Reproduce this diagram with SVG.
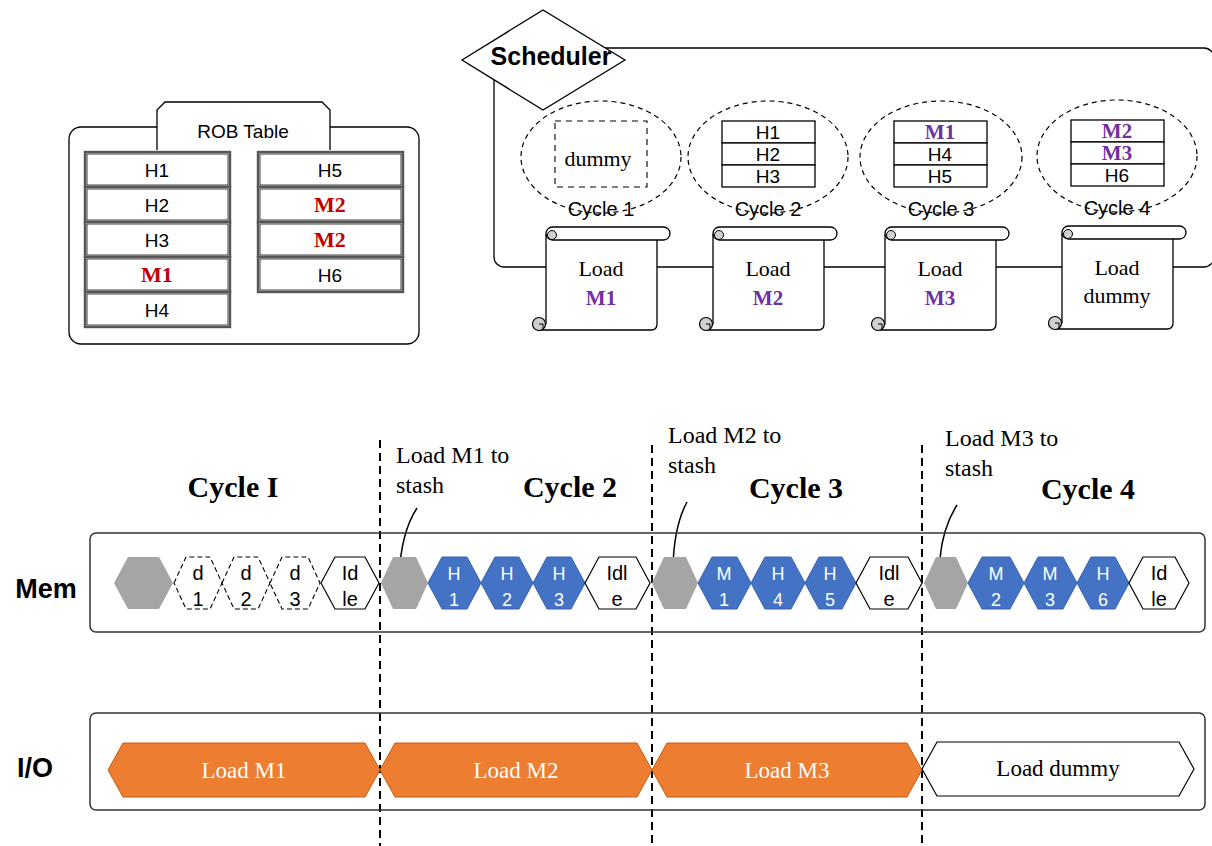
<svg xmlns="http://www.w3.org/2000/svg" xmlns:xlink="http://www.w3.org/1999/xlink" width="1212" height="846" viewBox="0 0 1212 846">
<style>
.sans{font-family:"Liberation Sans",Arial,sans-serif}
.serif{font-family:"Liberation Serif","Times New Roman",serif}
.row{fill:#fff;stroke:#555;stroke-width:2.4}
.rowin{fill:none;stroke:#111;stroke-width:0.8}
.rt{font-family:"Liberation Sans",Arial,sans-serif;font-size:19px;text-anchor:middle;fill:#000}
.red{font-family:"Liberation Serif","Times New Roman",serif;font-size:22px;font-weight:bold;text-anchor:middle;fill:#C00000}
.pur{font-family:"Liberation Serif","Times New Roman",serif;font-size:21px;font-weight:bold;text-anchor:middle;fill:#7030A0}
.ell{fill:none;stroke:#000;stroke-width:1.2;stroke-dasharray:5 4}
.cell{fill:#fff;stroke:#000;stroke-width:1.3}
.cyc{font-family:"Liberation Sans",Arial,sans-serif;font-size:20px;text-anchor:middle}
.ld{font-family:"Liberation Serif","Times New Roman",serif;font-size:22px;text-anchor:middle}
.gray{fill:#A5A5A5}
.blue{fill:#4472C4;stroke:#3763B0;stroke-width:1}
.idle{fill:#fff;stroke:#000;stroke-width:1.2}
.dash{fill:#fff;stroke:#000;stroke-width:1.1;stroke-dasharray:5 3}
.ht{font-family:"Liberation Sans",Arial,sans-serif;font-size:18px;text-anchor:middle;fill:#fff}
.hk{font-family:"Liberation Sans",Arial,sans-serif;font-size:20px;text-anchor:middle;fill:#000}
.org{fill:#ED7D31;stroke:#C55A11;stroke-width:1}
.ot{font-family:"Liberation Serif","Times New Roman",serif;font-size:23px;text-anchor:middle;fill:#fff}
.vl{stroke:#000;stroke-width:2;stroke-dasharray:8 5}
.box{fill:none;stroke:#333;stroke-width:1.5}
.note{font-family:"Liberation Serif","Times New Roman",serif;font-size:24px}
.ct{font-family:"Liberation Serif","Times New Roman",serif;font-size:30px;font-weight:bold;text-anchor:middle}
.lab{font-family:"Liberation Sans",Arial,sans-serif;font-size:27px;font-weight:bold;text-anchor:middle}
</style>
<defs>
<g id="scroll">
<path d="M0,8 H111 V97 Q111,103 105,103 H-7 L0,97 Z" fill="#fff" stroke="#000" stroke-width="1.3"/>
<rect x="0" y="0" width="124" height="13" rx="6.5" fill="#fff" stroke="#000" stroke-width="1.3"/>
<circle cx="6" cy="8" r="4.5" fill="#d0d0d0" stroke="#000" stroke-width="1"/>
<circle cx="-7" cy="97" r="6.5" fill="#d0d0d0" stroke="#000" stroke-width="1.2"/>
<path d="M-7,97 H-3 V103" fill="none" stroke="#000" stroke-width="1"/>
</g>
</defs>
<rect width="1212" height="846" fill="#fff"/>

<!-- ROB table -->
<g id="rob">
<rect x="69" y="127" width="350" height="217" rx="12" fill="#fff" stroke="#000" stroke-width="1.3"/>
<path d="M157,150 V110 L165,102 H322 L330,110 V150" fill="#fff" stroke="#000" stroke-width="1.3"/>
<text class="rt" x="243" y="138">ROB Table</text>
<rect class="row" x="85" y="152" width="145" height="35"/><rect class="rowin" x="87" y="154" width="141" height="31"/><text class="rt" x="157" y="177">H1</text>
<rect class="row" x="85" y="187" width="145" height="35"/><rect class="rowin" x="87" y="189" width="141" height="31"/><text class="rt" x="157" y="212">H2</text>
<rect class="row" x="85" y="222" width="145" height="35"/><rect class="rowin" x="87" y="224" width="141" height="31"/><text class="rt" x="157" y="247">H3</text>
<rect class="row" x="85" y="257" width="145" height="35"/><rect class="rowin" x="87" y="259" width="141" height="31"/><text class="red" x="157" y="282">M1</text>
<rect class="row" x="85" y="292" width="145" height="35"/><rect class="rowin" x="87" y="294" width="141" height="31"/><text class="rt" x="157" y="317">H4</text>
<rect class="row" x="258" y="152" width="145" height="35"/><rect class="rowin" x="260" y="154" width="141" height="31"/><text class="rt" x="330" y="177">H5</text>
<rect class="row" x="258" y="187" width="145" height="35"/><rect class="rowin" x="260" y="189" width="141" height="31"/><text class="red" x="330" y="212">M2</text>
<rect class="row" x="258" y="222" width="145" height="35"/><rect class="rowin" x="260" y="224" width="141" height="31"/><text class="red" x="330" y="247">M2</text>
<rect class="row" x="258" y="257" width="145" height="35"/><rect class="rowin" x="260" y="259" width="141" height="31"/><text class="rt" x="330" y="282">H6</text>
</g>

<!-- connectors -->
<g id="connectors">
<rect x="494" y="48" width="720" height="219" rx="10" fill="none" stroke="#000" stroke-width="1.3"/>
<line class="vl" x1="380" y1="440" x2="380" y2="846"/>
<line class="vl" x1="652" y1="445" x2="652" y2="846"/>
<line class="vl" x1="922" y1="445" x2="922" y2="846"/>
<path d="M417,508 Q401,532 399,577" fill="none" stroke="#000" stroke-width="1.5"/>
<path d="M687,502 Q674,526 673,567" fill="none" stroke="#000" stroke-width="1.5"/>
<path d="M957,505 Q943,527 940,558" fill="none" stroke="#000" stroke-width="1.5"/>
</g>

<g id="scheduler">
<polygon points="462,60 543,10 625,60 543,110" fill="#fff" stroke="#000" stroke-width="1.3"/>
<text class="sans" x="551" y="65" font-size="25" font-weight="bold" text-anchor="middle">Scheduler</text>
</g>

<g id="cycle1">
<ellipse class="ell" cx="601" cy="157" rx="80" ry="56"/>
<rect x="555" y="121" width="92" height="66" fill="none" stroke="#000" stroke-width="1.1" stroke-dasharray="6 5"/>
<text class="serif" x="598" y="166" font-size="22" text-anchor="middle">dummy</text>
<text class="cyc" x="601" y="216">Cycle 1</text>
</g>
<g id="cycle2">
<ellipse class="ell" cx="768" cy="157" rx="80" ry="56"/>
<rect class="cell" x="722" y="121" width="93" height="22"/><rect class="cell" x="722" y="143" width="93" height="22"/><rect class="cell" x="722" y="165" width="93" height="22"/>
<text class="rt" x="768" y="139">H1</text><text class="rt" x="768" y="161">H2</text><text class="rt" x="768" y="183">H3</text>
<text class="cyc" x="768" y="216">Cycle 2</text>
</g>
<g id="cycle3">
<ellipse class="ell" cx="941" cy="157" rx="81" ry="56"/>
<rect class="cell" x="894" y="121" width="93" height="22"/><rect class="cell" x="894" y="143" width="93" height="22"/><rect class="cell" x="894" y="165" width="93" height="22"/>
<text class="pur" x="940" y="139">M1</text><text class="rt" x="940" y="161">H4</text><text class="rt" x="940" y="183">H5</text>
<text class="cyc" x="941" y="216">Cycle 3</text>
</g>
<g id="cycle4">
<ellipse class="ell" cx="1117" cy="156" rx="80" ry="56"/>
<rect class="cell" x="1071" y="120" width="93" height="22"/><rect class="cell" x="1071" y="142" width="93" height="22"/><rect class="cell" x="1071" y="164" width="93" height="22"/>
<text class="pur" x="1117" y="138">M2</text><text class="pur" x="1117" y="160">M3</text><text class="rt" x="1117" y="182">H6</text>
<text class="cyc" x="1117" y="215">Cycle 4</text>
</g>

<g id="load1"><use xlink:href="#scroll" x="546" y="227"/><text class="ld" x="601" y="276">Load</text><text class="pur" x="601" y="305" font-size="22">M1</text></g>
<g id="load2"><use xlink:href="#scroll" x="713" y="227"/><text class="ld" x="768" y="276">Load</text><text class="pur" x="768" y="305" font-size="22">M2</text></g>
<g id="load3"><use xlink:href="#scroll" x="885" y="227"/><text class="ld" x="940" y="276">Load</text><text class="pur" x="940" y="305" font-size="22">M3</text></g>
<g id="load4"><use xlink:href="#scroll" x="1062" y="226"/><text class="ld" x="1117" y="275">Load</text><text class="ld" x="1117" y="303">dummy</text></g>

<!-- timeline headings -->
<g id="headings">
<text class="ct" x="233" y="497">Cycle I</text>
<text class="ct" x="570" y="497">Cycle 2</text>
<text class="ct" x="796" y="498">Cycle 3</text>
<text class="ct" x="1088" y="499">Cycle 4</text>
<text class="note" x="396" y="463">Load M1 to</text><text class="note" x="396" y="493">stash</text>
<text class="note" x="668" y="443">Load M2 to</text><text class="note" x="668" y="473">stash</text>
<text class="note" x="945" y="446">Load M3 to</text><text class="note" x="945" y="476">stash</text>
</g>

<!-- Mem lane -->
<g id="mem">
<text class="lab" x="46" y="598">Mem</text>
<rect class="box" x="90" y="533" width="1115" height="99" rx="6"/>
<polygon class="gray" points="114,583 128,557 159,557 173,583 159,609 128,609"/>
<polygon class="dash" points="174,583 186,557 210,557 222,583 210,609 186,609"/>
<polygon class="dash" points="222,583 234,557 258,557 270,583 258,609 234,609"/>
<polygon class="dash" points="270,583 282,557 308,557 320,583 308,609 282,609"/>
<polygon class="idle" points="321,583 335,557 365,557 379,583 365,609 335,609"/>
<text class="hk" x="198" y="580">d</text><text class="hk" x="198" y="606">1</text>
<text class="hk" x="246" y="580">d</text><text class="hk" x="246" y="606">2</text>
<text class="hk" x="295" y="580">d</text><text class="hk" x="295" y="606">3</text>
<text class="hk" x="350" y="580">Id</text><text class="hk" x="350" y="606">le</text>
<polygon class="gray" points="381,583 393,557 416,557 428,583 416,609 393,609"/>
<polygon class="blue" points="428,583 442,557 467,557 481,583 467,609 442,609"/>
<polygon class="blue" points="481,583 495,557 519,557 533,583 519,609 495,609"/>
<polygon class="blue" points="533,583 547,557 571,557 585,583 571,609 547,609"/>
<polygon class="idle" points="585,583 599,557 636,557 650,583 636,609 599,609"/>
<text class="ht" x="454" y="580">H</text><text class="ht" x="454" y="606">1</text>
<text class="ht" x="507" y="580">H</text><text class="ht" x="507" y="606">2</text>
<text class="ht" x="559" y="580">H</text><text class="ht" x="559" y="606">3</text>
<text class="hk" x="617" y="580">Idl</text><text class="hk" x="617" y="606">e</text>
<polygon class="gray" points="652,583 664,557 686,557 698,583 686,609 664,609"/>
<polygon class="blue" points="698,583 712,557 737,557 751,583 737,609 712,609"/>
<polygon class="blue" points="751,583 765,557 791,557 805,583 791,609 765,609"/>
<polygon class="blue" points="805,583 819,557 842,557 856,583 842,609 819,609"/>
<polygon class="idle" points="856,583 870,557 908,557 922,583 908,609 870,609"/>
<text class="ht" x="724" y="580">M</text><text class="ht" x="724" y="606">1</text>
<text class="ht" x="778" y="580">H</text><text class="ht" x="778" y="606">4</text>
<text class="ht" x="830" y="580">H</text><text class="ht" x="830" y="606">5</text>
<text class="hk" x="889" y="580">Idl</text><text class="hk" x="889" y="606">e</text>
<polygon class="gray" points="924,583 936,557 956,557 968,583 956,609 936,609"/>
<polygon class="blue" points="968,583 982,557 1010,557 1024,583 1010,609 982,609"/>
<polygon class="blue" points="1024,583 1038,557 1063,557 1077,583 1063,609 1038,609"/>
<polygon class="blue" points="1077,583 1091,557 1115,557 1129,583 1115,609 1091,609"/>
<polygon class="idle" points="1129,583 1143,557 1175,557 1189,583 1175,609 1143,609"/>
<text class="ht" x="996" y="580">M</text><text class="ht" x="996" y="606">2</text>
<text class="ht" x="1050" y="580">M</text><text class="ht" x="1050" y="606">3</text>
<text class="ht" x="1103" y="580">H</text><text class="ht" x="1103" y="606">6</text>
<text class="hk" x="1159" y="580">Id</text><text class="hk" x="1159" y="606">le</text>
</g>

<!-- I/O lane -->
<g id="io">
<text class="lab" x="35" y="777">I/O</text>
<rect class="box" x="90" y="713" width="1115" height="97" rx="6"/>
<polygon class="org" points="108,770 123,743 365,743 380,770 365,797 123,797"/>
<polygon class="org" points="380,770 395,743 637,743 652,770 637,797 395,797"/>
<polygon class="org" points="652,770 667,743 907,743 922,770 907,797 667,797"/>
<polygon class="idle" points="922,769 937,742 1179,742 1194,769 1179,796 937,796"/>
<text class="ot" x="244" y="778">Load M1</text>
<text class="ot" x="516" y="778">Load M2</text>
<text class="ot" x="787" y="778">Load M3</text>
<text class="ot" x="1058" y="776" style="fill:#000">Load dummy</text>
</g>
</svg>
